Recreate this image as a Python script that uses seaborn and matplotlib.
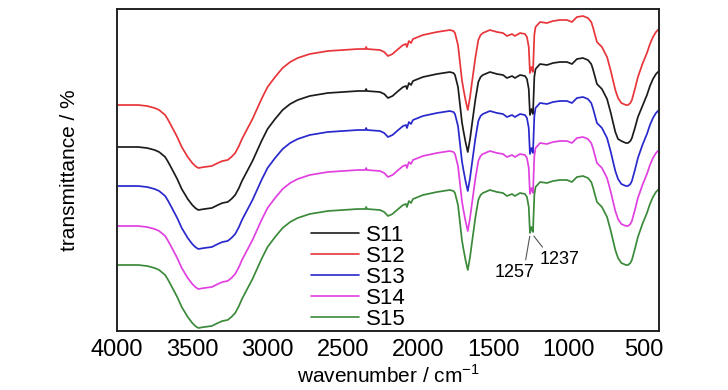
import pandas as pd
import seaborn as sns
import matplotlib
matplotlib.use("Agg")
import matplotlib.pyplot as plt

wavenumber = [4000, 3860, 3800, 3750, 3720, 3680, 3660, 3635, 3600, 3570,
              3530, 3500, 3480, 3460, 3420, 3370, 3330, 3300, 3265, 3240,
              3215, 3190, 3170, 3135, 3100, 3070, 3040, 3000, 2950, 2900,
              2850, 2800, 2720, 2600, 2500, 2400, 2350, 2345, 2340, 2253,
              2225, 2200, 2170, 2140, 2100, 2080, 2074, 2061, 2047, 2034,
              1968, 1875, 1790, 1765, 1755, 1735, 1720, 1709, 1700, 1685,
              1670, 1655, 1640, 1620, 1600, 1585, 1570, 1523, 1476, 1436,
              1410, 1376, 1357, 1323, 1290, 1277, 1265, 1257, 1247, 1237,
              1228, 1220, 1190, 1144, 1104, 1058, 1011, 978, 945, 905,
              872, 850, 839, 812, 779, 745, 720, 706, 690, 672,
              650, 620, 606, 590, 580, 560, 540, 510, 480, 460,
              440, 420, 407, 400]

# stacked transmittance curves (arbitrary units, offset as in the figure)
s11 = [184, 184, 183, 181, 179, 174, 169, 162, 152, 142,
       132, 126, 123, 121, 122, 123, 126, 128, 129, 132,
       136, 143, 150, 160, 170, 180, 190, 202, 212, 221,
       227, 231, 235, 238, 239, 240, 240, 242, 240, 239,
       237, 233, 235, 239, 244, 245, 242, 248, 246, 250,
       254, 257, 259, 258, 256, 244, 224, 209, 201, 189,
       179, 192, 209, 231, 249, 254, 256, 259, 257, 256,
       253, 255, 253, 256, 255, 252, 242, 216, 222, 217,
       254, 262, 267, 266, 268, 269, 269, 267, 272, 273,
       271, 267, 262, 247, 242, 232, 218, 209, 199, 192,
       190, 188, 188, 190, 193, 203, 214, 225, 236, 245,
       252, 257, 259, 260]
s12 = [226, 226, 225, 223, 221, 216, 211, 204, 194, 184,
       174, 168, 165, 163, 164, 165, 168, 170, 171, 174,
       178, 185, 192, 202, 212, 222, 232, 244, 254, 263,
       269, 273, 277, 280, 281, 282, 282, 284, 282, 281,
       279, 275, 277, 281, 286, 287, 284, 290, 288, 292,
       296, 299, 301, 300, 298, 286, 266, 251, 243, 231,
       221, 234, 251, 273, 291, 296, 298, 301, 299, 298,
       295, 297, 295, 298, 297, 294, 284, 258, 264, 259,
       296, 304, 309, 308, 310, 311, 311, 309, 314, 315,
       313, 309, 304, 289, 284, 274, 260, 251, 241, 233,
       228, 226, 226, 228, 231, 242, 254, 267, 278, 287,
       294, 299, 301, 302]
s13 = [145, 145, 144, 142, 140, 135, 130, 123, 113, 103,
       93, 87, 84, 82, 83, 84, 87, 89, 90, 93,
       97, 104, 111, 121, 131, 141, 151, 163, 173, 182,
       188, 192, 196, 199, 200, 201, 201, 203, 201, 200,
       198, 194, 196, 200, 205, 206, 203, 209, 207, 211,
       215, 218, 220, 219, 217, 205, 185, 170, 162, 150,
       140, 153, 170, 192, 210, 215, 217, 220, 218, 217,
       214, 216, 214, 217, 216, 213, 203, 177, 183, 178,
       215, 223, 228, 227, 229, 230, 230, 228, 233, 234,
       232, 228, 223, 208, 203, 193, 179, 170, 160, 152,
       147, 145, 145, 147, 150, 161, 173, 186, 197, 206,
       213, 218, 220, 221]
s14 = [105, 105, 104, 102, 100, 95, 90, 83, 73, 63,
       53, 47, 44, 42, 43, 44, 47, 49, 50, 53,
       57, 64, 71, 81, 91, 101, 111, 123, 133, 142,
       148, 152, 156, 159, 160, 161, 161, 163, 161, 160,
       158, 154, 156, 160, 165, 166, 163, 169, 167, 171,
       175, 178, 180, 179, 177, 165, 145, 130, 122, 110,
       100, 113, 130, 152, 170, 175, 177, 180, 178, 177,
       174, 176, 174, 177, 176, 173, 163, 137, 143, 138,
       175, 183, 188, 187, 189, 190, 190, 188, 193, 194,
       192, 188, 183, 168, 163, 153, 139, 130, 120, 112,
       107, 105, 105, 107, 110, 121, 133, 146, 157, 166,
       173, 178, 180, 181]
s15 = [66, 66, 65, 63, 61, 56, 51, 44, 34, 24,
       14, 8, 5, 3, 4, 5, 8, 10, 11, 14,
       18, 25, 32, 42, 52, 62, 72, 84, 94, 103,
       109, 113, 117, 120, 121, 122, 122, 124, 122, 121,
       119, 115, 117, 121, 126, 127, 124, 130, 128, 132,
       136, 139, 141, 140, 138, 126, 106, 91, 83, 71,
       61, 74, 91, 113, 131, 136, 138, 141, 139, 138,
       135, 137, 135, 138, 137, 134, 124, 98, 104, 99,
       136, 144, 149, 148, 150, 151, 151, 149, 154, 155,
       153, 149, 144, 129, 124, 114, 100, 91, 81, 73,
       68, 66, 66, 68, 71, 82, 94, 107, 118, 127,
       134, 139, 141, 142]

samples = ["S11", "S12", "S13", "S14", "S15"]
series = [s11, s12, s13, s14, s15]
colors = {"S11": "#1c1c1c", "S12": "#e8353a", "S13": "#2828cc", "S14": "#e040e0", "S15": "#3a8a3a"}

df = pd.concat([pd.DataFrame({"wavenumber": wavenumber, "T": vals, "sample": name})
                for name, vals in zip(samples, series)], ignore_index=True)

sns.set_theme(style="white")
plt.rcParams["font.family"] = ["Liberation Sans", "DejaVu Sans"]
plt.rcParams["mathtext.fontset"] = "custom"
plt.rcParams["mathtext.rm"] = "Liberation Sans"
plt.rcParams["text.color"] = "black"
plt.rcParams["axes.labelcolor"] = "black"

fig = plt.figure(figsize=(7.28, 3.90), dpi=100)
ax = fig.add_axes([0.1607, 0.1513, 0.7445, 0.8256])

sns.lineplot(data=df, x="wavenumber", y="T", hue="sample", palette=colors,
             estimator=None, linewidth=1.25, ax=ax)

ax.set_xlim(4000, 400)
ax.set_ylim(0, 322)
ax.set_xticks([4000, 3500, 3000, 2500, 2000, 1500, 1000, 500])
ax.set_yticks([])
ax.tick_params(axis="x", length=0, pad=6, labelsize=17, colors="black")
for sp in ax.spines.values():
    sp.set_color("#222222")
    sp.set_linewidth(1.4)

ax.set_xlabel("wavenumber / cm$^{-1}$", fontsize=15, labelpad=2)
ax.set_ylabel("transmittance / %", fontsize=15, labelpad=27)

leg = ax.legend(loc="lower left", bbox_to_anchor=(0.33, -0.045), frameon=False,
                fontsize=16, handlelength=2.15, handletextpad=0.3, labelspacing=0.0,
                borderpad=0.2)
for line in leg.get_lines():
    line.set_linewidth(1.2)

arrow = dict(arrowstyle="-", color="#555555", lw=0.8, shrinkA=1, shrinkB=1)
ax.annotate("1257", xy=(1257, 96), xytext=(1357, 58), ha="center", va="center",
            fontsize=13, arrowprops=dict(arrow, relpos=(0.75, 1.0)))
ax.annotate("1237", xy=(1237, 96), xytext=(1058, 71), ha="center", va="center",
            fontsize=13, arrowprops=dict(arrow, relpos=(0.15, 1.0)))

fig.savefig("out.png", dpi=100)
